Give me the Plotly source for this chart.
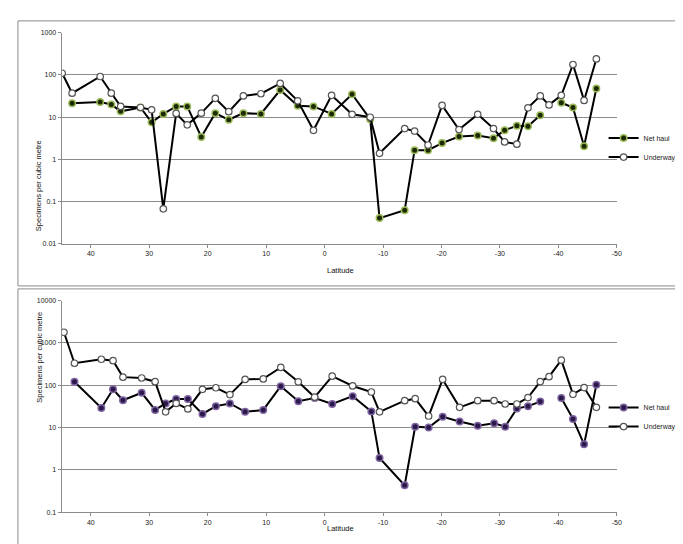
import plotly.graph_objects as go

# ---------------- data ----------------
lat_top = [44.9, 43.2, 38.4, 36.5, 34.9, 31.5, 29.6, 27.6, 25.4, 23.5, 21.1, 18.7, 16.4, 13.9,
           10.9, 7.6, 4.6, 1.9, -1.2, -4.7, -7.8, -9.4, -13.7, -15.4, -17.7, -20.1, -23.0,
           -26.2, -28.9, -30.8, -32.9, -34.8, -36.9, -38.4, -40.5, -42.5, -44.4, -46.5]
net_top = [None, 21.5, 23, 20, 13.8, 17, 7.6, 12, 18, 18, 3.4, 12.5, 8.7, 12.5,
           12, 44, 18.6, 18, 12, 35, 9, 0.041, 0.063, 1.66, 1.66, 2.45, 3.5,
           3.7, 3.2, 4.9, 6.3, 6.1, 11.2, None, 22, 17, 2.05, 48]
under_top = [110, 37, 92, 37, 18, 17, 15, 0.068, 12.3, 6.6, 12.5, 28, 13.5, 32,
             36, 63, 24.5, 4.9, 33, 11.7, 10, 1.4, 5.4, 4.7, 2.2, 19, 5.1,
             11.7, 5.4, 2.6, 2.3, 16.7, 32, 19.6, 33, 177, 25, 240]

lat_bot = [44.6, 42.8, 38.2, 36.2, 34.5, 31.3, 29.0, 27.2, 25.4, 23.4, 20.9, 18.6, 16.2, 13.6,
           10.5, 7.5, 4.5, 1.7, -1.3, -4.8, -8.0, -9.4, -13.7, -15.5, -17.8, -20.2, -23.1,
           -26.2, -29.0, -30.9, -32.9, -34.8, -36.9, -38.4, -40.5, -42.5, -44.4, -46.5]
net_bot = [None, 120, 29, 80, 44, 66, 26, 37, 47, 47, 21, 32, 37, 23.5,
           26, 95, 42, 50, 36, 55, 24, 1.9, 0.43, 10.5, 10, 18, 13.8,
           11, 12.6, 10.5, 28, 32, 41, None, 50, 16, 4.0, 102]
under_bot = [1780, 330, 410, 380, 155, 148, 121, 23.5, 37, 27.5, 80, 87, 60, 137,
             141, 263, 120, 52, 163, 96, 69, 23.5, 43, 48, 18.7, 137, 30,
             43, 43, 36, 36, 51, 122, 159, 390, 61, 88, 30]

x_ticks = [40, 30, 20, 10, 0, -10, -20, -30, -40, -50]
y_ticks_top = [0.01, 0.1, 1, 10, 100, 1000]
y_ticks_bot = [0.1, 1, 10, 100, 1000, 10000]
y_text_top = ["0.01", "0.1", "1", "10", "100", "1000"]
y_text_bot = ["0.1", "1", "10", "100", "1000", "10000"]

# ---------------- layout helpers ----------------
W, H = 683, 544
def px(x):
    return x / W
def py(y):
    return 1 - y / H

FONT = "Liberation Sans"
GRID = "#8c8c8c"

fig = go.Figure()

def add_traces(lat, net, under, xa, ya, legend, net_fill, net_halo):
    fig.add_trace(go.Scatter(
        x=lat, y=net, name="Net haul", mode="lines+markers",
        xaxis=xa, yaxis=ya, legend=legend, legendgroup=legend + "a",
        line=dict(color="black", width=2),
        marker=dict(symbol="circle", size=6.5, color=net_fill,
                    line=dict(color=net_halo, width=1.5)),
    ))
    fig.add_trace(go.Scatter(
        x=lat, y=under, name="Underway", mode="lines+markers",
        xaxis=xa, yaxis=ya, legend=legend, legendgroup=legend + "b",
        line=dict(color="black", width=2),
        marker=dict(symbol="circle", size=6.5, color="white",
                    line=dict(color="#555555", width=1.2)),
    ))

add_traces(lat_top, net_top, under_top, "x", "y", "legend", "#1e2a05", "#9bbb59")
add_traces(lat_bot, net_bot, under_bot, "x2", "y2", "legend2", "#2a1a4a", "#8064a2")

xaxis_common = dict(
    range=[45, -50], tickvals=x_ticks, ticktext=[str(v) for v in x_ticks],
    showgrid=False, zeroline=False, showline=True, linecolor=GRID, linewidth=1,
    ticks="outside", ticklen=3, tickcolor=GRID,
    tickfont=dict(family=FONT, size=7, color="#222222"),
)
yaxis_common = dict(
    type="log", showgrid=True, gridcolor=GRID, gridwidth=1,
    zeroline=False, showline=True, linecolor=GRID, linewidth=1,
    ticks="outside", ticklen=3, tickcolor=GRID,
    tickfont=dict(family=FONT, size=7, color="#222222"),
)

fig.update_layout(
    width=W, height=H,
    margin=dict(l=0, r=0, t=0, b=0),
    paper_bgcolor="white", plot_bgcolor="white",
    showlegend=True,
    xaxis=dict(domain=[px(54), px(613.3)], anchor="y", **xaxis_common),
    yaxis=dict(domain=[py(235), py(21)], anchor="x", range=[-2, 3],
               tickvals=y_ticks_top, ticktext=y_text_top, **yaxis_common),
    xaxis2=dict(domain=[px(54), px(613.3)], anchor="y2", **xaxis_common),
    yaxis2=dict(domain=[py(506.7), py(292.3)], anchor="x2", range=[-1, 4],
                tickvals=y_ticks_bot, ticktext=y_text_bot, **yaxis_common),
    legend=dict(x=px(600), y=py(113), xanchor="left", yanchor="top",
                font=dict(family=FONT, size=7, color="#222222"),
                bgcolor="rgba(0,0,0,0)", tracegroupgap=0),
    legend2=dict(x=px(600), y=py(386), xanchor="left", yanchor="top",
                 font=dict(family=FONT, size=7, color="#222222"),
                 bgcolor="rgba(0,0,0,0)", tracegroupgap=0),
)

# frames
frame = dict(type="line", xref="paper", yref="paper", line=dict(color=GRID, width=1))
shapes = [
    dict(x0=px(10), x1=1, y0=py(9), y1=py(9), **frame),
    dict(x0=px(10), x1=px(10), y0=py(9), y1=py(277.5), **frame),
    dict(x0=px(10), x1=1, y0=py(277.5), y1=py(277.5), **frame),
    dict(x0=px(10), x1=1, y0=py(280.5), y1=py(280.5), **frame),
    dict(x0=px(10), x1=px(10), y0=py(280.5), y1=0, **frame),
]
fig.update_layout(shapes=shapes)

# axis titles
ann_font = dict(family=FONT, size=7.5, color="#111111")
fig.add_annotation(text="Specimens per cubic metre", x=px(25), y=py(128), xref="paper", yref="paper",
                   textangle=-90, showarrow=False, font=ann_font)
fig.add_annotation(text="Latitude", x=px(335), y=py(262), xref="paper", yref="paper",
                   showarrow=False, font=ann_font)
fig.add_annotation(text="Specimens per cubic metre", x=px(25), y=py(398), xref="paper", yref="paper",
                   textangle=-90, showarrow=False, font=ann_font)
fig.add_annotation(text="Latitude", x=px(335), y=py(530), xref="paper", yref="paper",
                   showarrow=False, font=ann_font)

fig.write_html("out.html")
